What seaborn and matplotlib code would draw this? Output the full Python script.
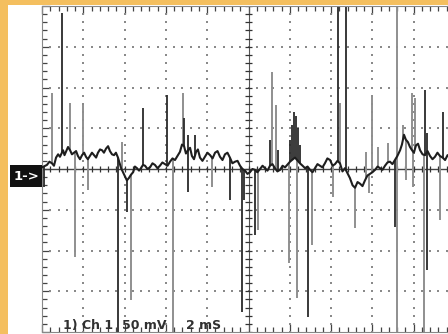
import numpy as np
import pandas as pd
import matplotlib
matplotlib.use("Agg")
import matplotlib.pyplot as plt
import seaborn as sns
from matplotlib.patches import Rectangle
from matplotlib.ticker import MultipleLocator

# ---- data: oscilloscope trace, time in ms (2 ms/div), voltage in mV (50 mV/div)
base_t = [0.00, 0.24, 0.48, 0.68, 0.87, 1.02, 1.16, 1.36, 1.55, 1.74, 1.94, 2.13,
          2.32, 2.52, 2.71, 2.91, 3.10, 3.29, 3.49, 3.68, 3.83, 4.02, 4.21, 4.41,
          4.60, 4.79, 4.99, 5.23, 5.47, 5.71, 5.96, 6.20, 6.44, 6.68, 6.88, 7.07,
          7.26, 7.46, 7.65, 7.89, 8.14, 8.38, 8.62, 8.86, 9.10, 9.35, 9.59, 9.83,
          10.07, 10.31, 10.56, 10.80, 11.04, 11.28, 11.53, 11.77, 12.01, 12.25,
          12.49, 12.74, 12.98, 13.22, 13.46, 13.70, 13.95, 14.19, 14.43, 14.67,
          14.91, 15.16, 15.40, 15.64, 15.88, 16.13, 16.37, 16.61, 16.85, 17.09,
          17.34, 17.53, 17.72, 17.92, 18.11, 18.31, 18.55, 18.79, 19.03, 19.27,
          19.52, 19.76]
base_v = [2, 5, 7, 14, 15, 23, 21, 23, 20, 16, 17, 15,
          16, 17, 20, 23, 25, 22, 17, 14, 1, -9, -11, -4,
          1, 1, 4, 2, 5, 4, 6, 9, 11, 21, 28, 23,
          16, 21, 14, 15, 17, 20, 15, 18, 14, 9, 4, -2,
          -4, -1, 0, 1, 4, 1, -1, 2, 9, 14,
          7, 1, -1, 1, 4, 7, 11, 6, 7, 1,
          -11, -23, -18, -14, -6, -1, 1, 4, 9, 11,
          23, 42, 33, 23, 29, 23, 17, 16, 15, 16,
          11, 14]
# small noise wiggles read between the main baseline points
wiggle_t = [0.36, 0.58, 0.78, 1.09, 1.26, 1.45, 1.65, 1.84, 2.04, 2.22, 2.42,
            2.62, 2.81, 3.00, 3.20, 3.39, 3.58, 4.11, 4.31, 4.50, 4.70, 4.89,
            5.11, 5.35, 5.59, 5.83, 6.08, 6.32, 6.56, 6.78, 6.97, 7.17, 7.36,
            7.55, 7.77, 8.01, 8.26, 8.50, 8.74, 8.98, 9.22, 9.47, 9.71, 9.95,
            10.19, 10.43, 10.68, 10.92, 11.16, 11.40, 11.65, 12.62, 12.86,
            13.10, 13.34, 13.58, 13.82, 14.07, 14.31, 14.55, 14.79, 15.04,
            15.28, 15.52, 15.76, 16.00, 16.25, 16.49, 16.73, 16.97, 17.21,
            17.43, 17.62, 17.82, 18.01, 18.21, 18.43, 18.67, 18.91, 19.15,
            19.40, 19.64]
wiggle_v = [9, 4, 18, 17, 27, 18, 22, 12, 20, 12, 20,
            14, 24, 20, 28, 18, 20, -14, -7, 3, -2, 5,
            0, 7, 1, 8, 4, 13, 16, 30, 19, 26, 12,
            24, 10, 20, 13, 22, 11, 20, 7, 10, 0, -6,
            0, -4, 4, -2, 6, -3, 4, 4, 3,
            -4, 6, 2, 13, 4, 10, -3, -5, -20,
            -16, -21, -8, -4, 3, -1, 8, 6, 16,
            30, 36, 27, 20, 31, 18, 22, 12, 20,
            14, 17]

spike_t = [0.48, 0.97, 1.36, 1.99, 3.87, 4.89, 6.05, 6.83, 6.88, 7.07, 7.41,
           11.04, 11.14, 11.33, 11.43, 12.01, 12.11, 12.20, 12.30, 12.40, 12.49,
           14.33, 14.43, 14.72, 15.69, 15.98, 16.27, 16.76, 17.19, 17.48, 17.92,
           18.06, 18.55, 18.64, 19.42,
           0.10, 1.60, 2.23, 3.68, 4.12, 4.31, 6.34, 7.07, 8.23, 9.10, 9.69,
           9.78, 10.31, 10.46, 11.96, 12.35, 12.88, 13.08, 14.09, 15.16, 15.84,
           17.09, 17.19, 17.63, 17.97, 18.50, 18.64, 19.27]
spike_v = [93, 192, 81, 79, 33, 75, 91, 93, 63, 42, 42,
           36, 119, 79, 23, 36, 54, 70, 65, 50, 29,
           205, 81, 205, 21, 91, 27, 32, 205, 54, 93,
           87, 97, 44, 70,
           -22, -108, -26, -205, -53, -161, -205, -28, -22, -38, -176,
           -38, -81, -75, -115, -158, -182, -93, -34, -72, -29,
           -71, -205, -14, -22, -205, -124, -63]
spike_shade = ["g", "d", "g", "g", "g", "d", "d", "g", "d", "d", "d",
               "d", "g", "g", "d", "d", "d", "d", "d", "d", "d",
               "d", "g", "d", "g", "g", "g", "g", "g", "g", "g",
               "g", "d", "d", "d",
               "d", "g", "g", "d", "d", "g", "g", "d", "g", "d", "d",
               "d", "d", "g", "g", "g", "d", "g", "g", "g", "g",
               "d", "g", "g", "g", "g", "d", "g"]

labels = ["1) Ch 1", "50 mV", "2 mS"]
marker_text = "1->"

ORANGE = "#F4BF5F"
DARK = "#2a2a2a"
GRAY = "#8f8f8f"

sns.set_theme(style="white")
plt.rcParams["font.family"] = ["DejaVu Sans"]

W, H = 448, 334
fig = plt.figure(figsize=(W / 100, H / 100), dpi=100)
fig.patch.set_facecolor(ORANGE)
fig.patches.append(Rectangle((8 / W, 0), 1, (H - 5) / H, transform=fig.transFigure,
                             facecolor="white", edgecolor="none", zorder=-5))

ax = fig.add_axes([42 / W, 2 / H, 413 / W, 326 / H])
ax.set_facecolor("white")
ax.set_xlim(0, 20)
ax.set_ylim(-200, 200)

# graticule dots
gx = [2, 4, 6, 8, 12, 14, 16, 18]
gy = [-150, -100, -50, 50, 100, 150]
dots_y = np.arange(-200, 201, 10)
dots_x = np.arange(0, 20.01, 0.4)
for x in gx:
    ax.plot(np.full_like(dots_y, x, dtype=float), dots_y, ls="none", marker="s",
            ms=1.5, mew=0, color="#8a8a8a", zorder=1)
for y in gy:
    ax.plot(dots_x, np.full_like(dots_x, y), ls="none", marker="s",
            ms=1.5, mew=0, color="#8a8a8a", zorder=1)

# center cross with ticks
ax.axvline(10, color="#555555", lw=0.8, zorder=1)
ax.axhline(0, color="#444444", lw=1.0, zorder=1)
ax.hlines(dots_y, 10 - 0.15, 10 + 0.15, color="#333333", lw=0.9, zorder=1)
ax.vlines(dots_x, -3.8, 3.8, color="#333333", lw=0.9, zorder=1)

# frame ticks
ax.xaxis.set_major_locator(MultipleLocator(2))
ax.xaxis.set_minor_locator(MultipleLocator(0.4))
ax.yaxis.set_major_locator(MultipleLocator(50))
ax.yaxis.set_minor_locator(MultipleLocator(10))
ax.tick_params(which="both", direction="in", bottom=True, top=True, left=True,
               right=True, labelbottom=False, labelleft=False, color="#444444",
               width=0.9)
ax.tick_params(which="major", length=6)
ax.tick_params(which="minor", length=3.5)
for s in ax.spines.values():
    s.set_color("#888888")
    s.set_linewidth(0.8)

# baseline trace (main points + wiggles)
df = pd.concat([pd.DataFrame({"t": base_t, "v": base_v}),
                pd.DataFrame({"t": wiggle_t, "v": wiggle_v})]).sort_values("t")

# spikes
spk = pd.DataFrame({"t": spike_t, "v": spike_v, "shade": spike_shade})
spk["base"] = np.interp(spk["t"], df["t"], df["v"])
for shade, col, lw in (("g", GRAY, 1.4), ("d", DARK, 1.3)):
    sub = spk[spk["shade"] == shade]
    ax.vlines(sub["t"], sub["base"], sub["v"], colors=col, lw=lw, zorder=2)

sns.lineplot(data=df, x="t", y="v", ax=ax, color="#1e1e1e", lw=1.5,
             estimator=None, sort=False, zorder=3)
ax.set_xlabel("")
ax.set_ylabel("")

# channel marker
fig.patches.append(Rectangle((10 / W, (H - 187) / H), 32 / W, 22 / H,
                             transform=fig.transFigure, facecolor="#111111",
                             edgecolor="none", zorder=5))
fig.text(26 / W, (H - 176) / H, marker_text, color="white", fontsize=9.5,
         fontweight="bold", ha="center", va="center", zorder=6)

# bottom readout
for txt, xp in zip(labels, [63, 122, 186]):
    fig.text(xp / W, (H - 329) / H, txt, color="#303030", fontsize=9,
             fontweight="bold", ha="left", va="baseline", zorder=6)

fig.savefig("out.png", dpi=100, facecolor=fig.get_facecolor())
